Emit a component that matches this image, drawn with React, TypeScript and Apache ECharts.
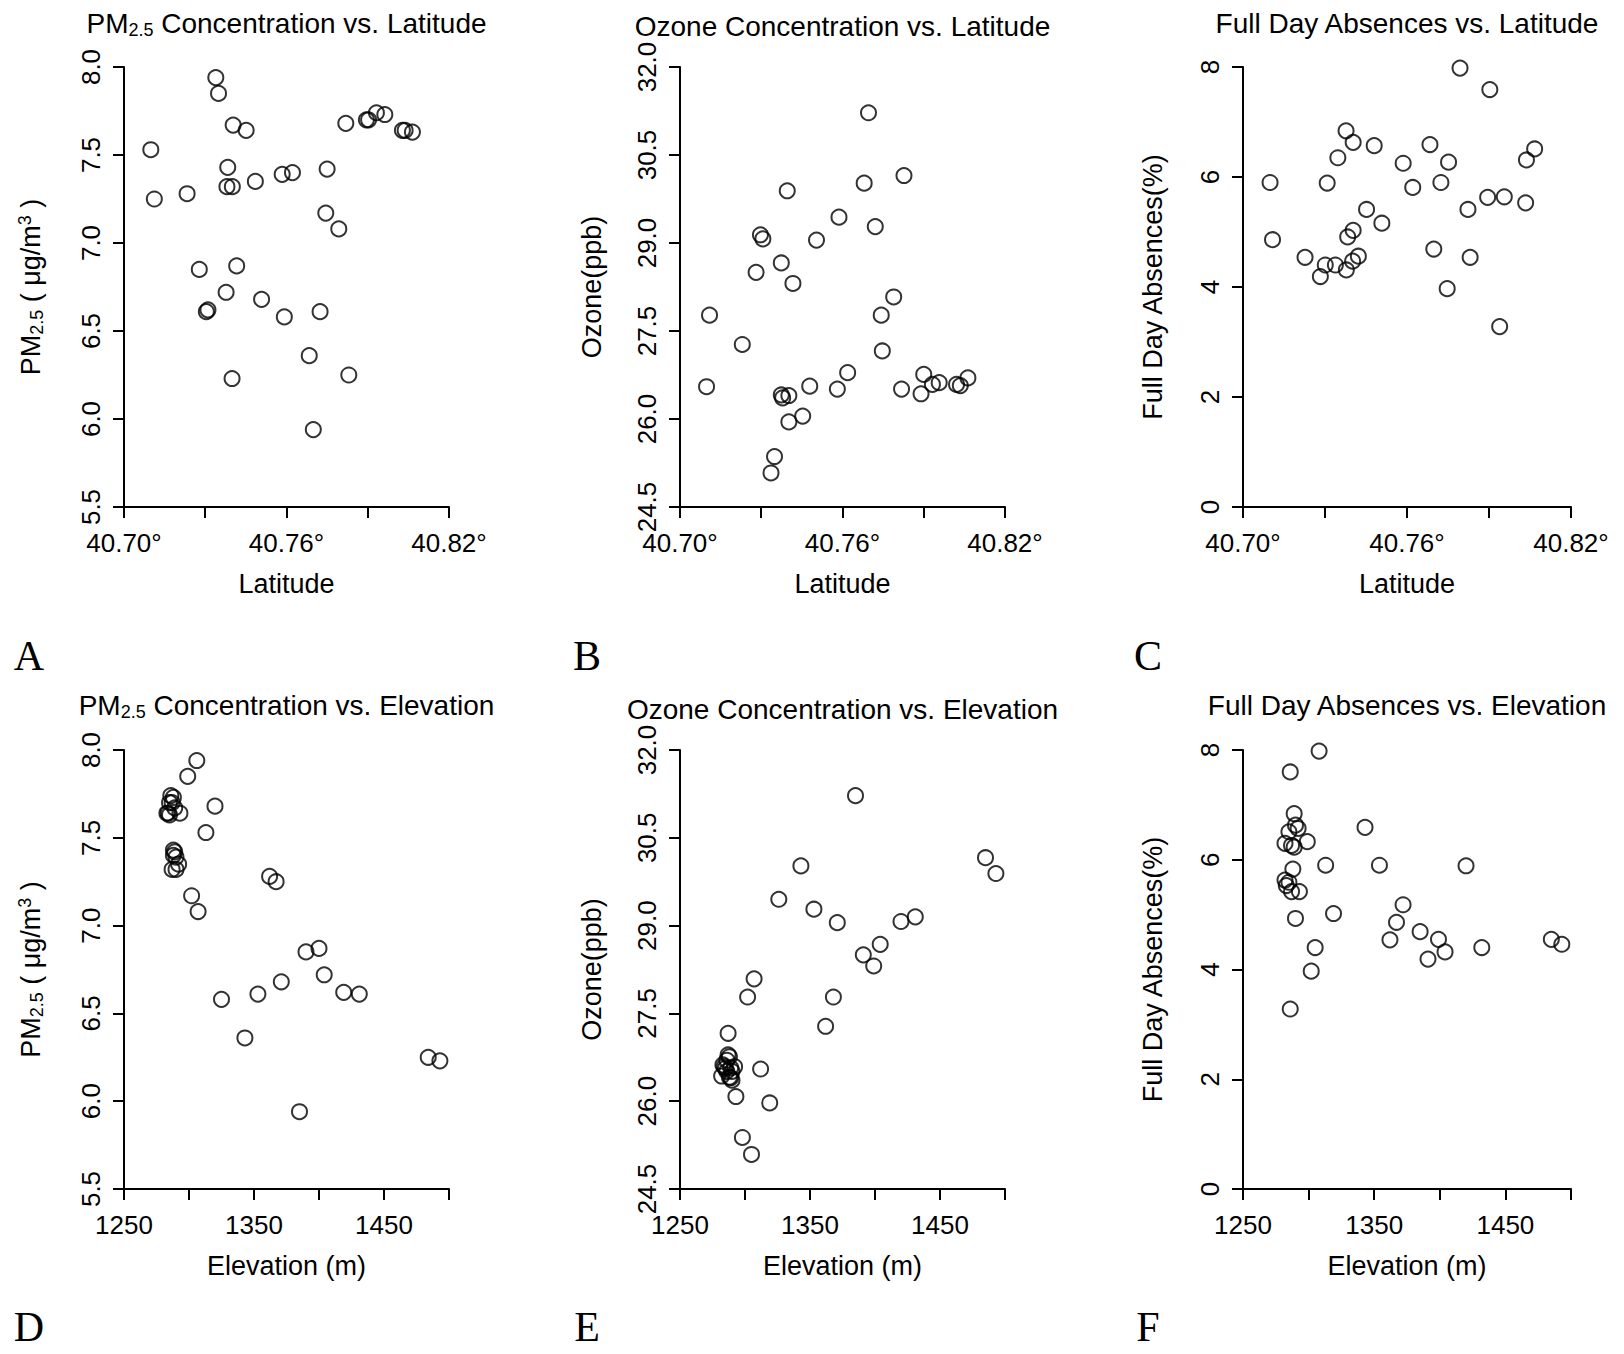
import React, { useEffect, useRef } from 'react';
import * as echarts from 'echarts';

const FONT = '"Liberation Sans", Arial, Helvetica, sans-serif';
const SERIF = '"Liberation Serif", "Times New Roman", serif';

// ---- tick values ----
const latTicks = [40.7, 40.73, 40.76, 40.79, 40.82];
const latLabels = [40.7, 40.76, 40.82];
const elevTicks = [1250, 1300, 1350, 1400, 1450, 1500];
const elevLabels = [1250, 1350, 1450];
const pmTicks = [5.5, 6.0, 6.5, 7.0, 7.5, 8.0];
const ozTicks = [24.5, 26.0, 27.5, 29.0, 30.5, 32.0];
const absTicks = [0, 2, 4, 6, 8];

// ---- Panel A: PM2.5 vs latitude ----
const latA = [40.7339, 40.7349, 40.7099, 40.7112, 40.7233, 40.7403, 40.7451, 40.7383, 40.738, 40.74, 40.7485, 40.7584, 40.7622, 40.775, 40.7745, 40.7793, 40.7819, 40.7895, 40.7903, 40.7932, 40.7963, 40.8028, 40.8038, 40.8065, 40.7278, 40.7304, 40.731, 40.7377, 40.7416, 40.7508, 40.7592, 40.7724, 40.7684, 40.7399, 40.783, 40.7699];
const pmA = [7.94, 7.85, 7.53, 7.25, 7.28, 7.67, 7.64, 7.43, 7.32, 7.32, 7.35, 7.39, 7.4, 7.42, 7.17, 7.08, 7.68, 7.7, 7.7, 7.74, 7.73, 7.64, 7.64, 7.63, 6.85, 6.61, 6.62, 6.72, 6.87, 6.68, 6.58, 6.61, 6.36, 6.23, 6.25, 5.94];

// ---- Panel B: Ozone vs latitude ----
const latB = [40.7696, 40.7827, 40.768, 40.7396, 40.7587, 40.7721, 40.7504, 40.7297, 40.7306, 40.7374, 40.7281, 40.7417, 40.7789, 40.7109, 40.7743, 40.723, 40.7747, 40.7619, 40.7098, 40.7479, 40.7581, 40.7374, 40.7379, 40.7402, 40.7818, 40.789, 40.79, 40.7932, 40.7957, 40.8021, 40.8035, 40.8063, 40.7453, 40.7402, 40.7349, 40.7336];
const ozB = [31.22, 30.15, 30.02, 29.89, 29.44, 29.28, 29.05, 29.14, 29.07, 28.66, 28.5, 28.31, 28.08, 27.77, 27.77, 27.27, 27.16, 26.79, 26.55, 26.56, 26.51, 26.41, 26.36, 26.4, 26.51, 26.43, 26.76, 26.59, 26.62, 26.59, 26.57, 26.7, 26.05, 25.95, 25.36, 25.08];

// ---- Panel C: Full day absences vs latitude ----
const latC = [40.7794, 40.7903, 40.7377, 40.7403, 40.748, 40.7347, 40.7684, 40.7586, 40.7752, 40.8067, 40.8037, 40.7099, 40.7308, 40.7621, 40.7724, 40.7895, 40.7956, 40.8034, 40.7823, 40.7452, 40.7508, 40.7403, 40.7383, 40.7108, 40.7698, 40.7227, 40.7831, 40.7422, 40.7401, 40.7301, 40.7338, 40.7378, 40.7283, 40.7747, 40.7939];
const absC = [7.98, 7.59, 6.84, 6.63, 6.57, 6.35, 6.59, 6.25, 6.27, 6.51, 6.31, 5.9, 5.89, 5.81, 5.9, 5.63, 5.64, 5.53, 5.41, 5.41, 5.16, 5.03, 4.91, 4.86, 4.69, 4.54, 4.54, 4.56, 4.47, 4.4, 4.4, 4.31, 4.19, 3.97, 3.28];

// ---- Panel D: PM2.5 vs elevation ----
const elevD = [1306, 1299, 1286, 1288, 1285, 1287, 1289, 1283, 1284, 1293, 1285, 1320, 1313, 1288, 1289, 1288, 1290, 1292, 1287, 1290, 1362, 1367, 1302, 1307, 1390, 1400, 1371, 1404, 1353, 1419, 1431, 1325, 1343, 1484, 1493, 1385];
const pmD = [7.94, 7.85, 7.74, 7.73, 7.7, 7.7, 7.67, 7.64, 7.64, 7.64, 7.63, 7.68, 7.53, 7.43, 7.42, 7.4, 7.39, 7.35, 7.32, 7.32, 7.28, 7.25, 7.17, 7.08, 6.85, 6.87, 6.68, 6.72, 6.61, 6.62, 6.61, 6.58, 6.36, 6.25, 6.23, 5.94];

// ---- Panel E: Ozone vs elevation ----
const elevE = [1385, 1485, 1493, 1343, 1326, 1353, 1371, 1420, 1431, 1391, 1404, 1399, 1307, 1302, 1368, 1362, 1287, 1312, 1319, 1293, 1298, 1305, 1287, 1288, 1286, 1283, 1284, 1292, 1289, 1285, 1290, 1286, 1282, 1288, 1289, 1290];
const ozE = [31.22, 30.16, 29.89, 30.02, 29.45, 29.28, 29.05, 29.07, 29.15, 28.5, 28.68, 28.31, 28.09, 27.78, 27.78, 27.28, 27.16, 26.55, 25.97, 26.08, 25.38, 25.09, 26.79, 26.76, 26.7, 26.62, 26.59, 26.59, 26.57, 26.56, 26.51, 26.51, 26.43, 26.41, 26.4, 26.36];

// ---- Panel F: Full day absences vs elevation ----
const elevF = [1308, 1286, 1289, 1343, 1285, 1290, 1292, 1282, 1287, 1289, 1299, 1313, 1354, 1420, 1288, 1282, 1285, 1283, 1287, 1293, 1319, 1372, 1290, 1367, 1385, 1362, 1399, 1485, 1493, 1305, 1432, 1404, 1391, 1302, 1286];
const absF = [7.98, 7.6, 6.84, 6.59, 6.51, 6.63, 6.57, 6.3, 6.26, 6.23, 6.33, 5.9, 5.9, 5.89, 5.83, 5.63, 5.59, 5.53, 5.42, 5.42, 5.02, 5.18, 4.93, 4.86, 4.69, 4.54, 4.55, 4.55, 4.46, 4.4, 4.4, 4.32, 4.19, 3.97, 3.28];

// ---- titles ----
const titles = [
  'PM{sub|2.5} Concentration vs. Latitude',
  'Ozone Concentration vs. Latitude',
  'Full Day Absences vs. Latitude',
  'PM{sub|2.5} Concentration vs. Elevation',
  'Ozone Concentration vs. Elevation',
  'Full Day Absences vs. Elevation',
];
const letters = ['A', 'B', 'C', 'D', 'E', 'F'];

type XKind = 'lat' | 'elev';
type YKind = 'pm' | 'oz' | 'abs';

const panels: { x: number[]; y: number[]; xk: XKind; yk: YKind }[] = [
  { x: latA, y: pmA, xk: 'lat', yk: 'pm' },
  { x: latB, y: ozB, xk: 'lat', yk: 'oz' },
  { x: latC, y: absC, xk: 'lat', yk: 'abs' },
  { x: elevD, y: pmD, xk: 'elev', yk: 'pm' },
  { x: elevE, y: ozE, xk: 'elev', yk: 'oz' },
  { x: elevF, y: absF, xk: 'elev', yk: 'abs' },
];

// layout (pixels)
const colLeft = [124, 680, 1243];
const colWidth = [325, 325, 328];
const rowTop = [67, 750];
const rowHeight = [440, 439];
const titleY = [[23, 26, 23], [705, 709, 705]];
const letterPos = [[29, 587, 1148], [656, 1327]];
const yNameGap: Record<YKind, number> = { pm: 78, oz: 73, abs: 75 };

const subRich = {
  sub: { fontSize: 18, fontFamily: FONT, color: '#000', lineHeight: 18, verticalAlign: 'bottom' as const },
  sup: { fontSize: 18, fontFamily: FONT, color: '#000', lineHeight: 18, verticalAlign: 'top' as const },
};

const axisLineStyle = { show: true, onZero: false, lineStyle: { color: '#000', width: 2 } };
const tickStyle = { color: '#000', width: 2 };

function buildOption() {
  const grid: any[] = [];
  const xAxis: any[] = [];
  const yAxis: any[] = [];
  const series: any[] = [];
  const title: any[] = [];

  panels.forEach((p, i) => {
    const row = Math.floor(i / 3);
    const col = i % 3;
    grid.push({ left: colLeft[col], top: rowTop[row], width: colWidth[col], height: rowHeight[row], containLabel: false });

    const isLat = p.xk === 'lat';
    xAxis.push({
      type: 'value',
      gridIndex: i,
      min: isLat ? latTicks[0] : elevTicks[0],
      max: isLat ? latTicks[latTicks.length - 1] : elevTicks[elevTicks.length - 1],
      name: isLat ? 'Latitude' : 'Elevation (m)',
      nameLocation: 'middle',
      nameGap: 62,
      nameTextStyle: { fontFamily: FONT, fontSize: 27, color: '#000', lineHeight: 30 },
      axisLine: axisLineStyle,
      axisTick: { show: true, length: 11, lineStyle: tickStyle, customValues: isLat ? latTicks : elevTicks },
      axisLabel: {
        show: true,
        customValues: isLat ? latLabels : elevLabels,
        formatter: (v: number) => (isLat ? v.toFixed(2) + '°' : String(Math.round(v))),
        fontFamily: FONT,
        fontSize: 26,
        color: '#000',
        margin: 23,
      },
      splitLine: { show: false },
    });

    const yt = p.yk === 'pm' ? pmTicks : p.yk === 'oz' ? ozTicks : absTicks;
    const yName = p.yk === 'pm' ? 'PM{sub|2.5} ( μg/m{sup|3} )' : p.yk === 'oz' ? 'Ozone(ppb)' : 'Full Day Absences(%)';
    yAxis.push({
      type: 'value',
      gridIndex: i,
      min: yt[0],
      max: yt[yt.length - 1],
      name: yName,
      nameLocation: 'middle',
      nameRotate: 90,
      nameGap: yNameGap[p.yk],
      nameTextStyle: { fontFamily: FONT, fontSize: 27, color: '#000', lineHeight: 30, rich: subRich },
      axisLine: axisLineStyle,
      axisTick: { show: true, length: 11, lineStyle: tickStyle, customValues: yt },
      axisLabel: {
        show: true,
        customValues: yt,
        rotate: 90,
        formatter: (v: number) => (p.yk === 'abs' ? String(Math.round(v)) : v.toFixed(1)),
        fontFamily: FONT,
        fontSize: 26,
        color: '#000',
        margin: 20,
      },
      splitLine: { show: false },
    });

    series.push({
      type: 'scatter',
      xAxisIndex: i,
      yAxisIndex: i,
      data: p.x.map((xv, k) => [xv, p.y[k]]),
      symbol: 'circle',
      symbolSize: 15,
      itemStyle: { color: 'rgba(0,0,0,0)', borderColor: '#000', borderWidth: 2 },
      emphasis: { disabled: true },
      silent: true,
    });

    const cx = colLeft[col] + colWidth[col] / 2;
    title.push({
      text: titles[i],
      left: cx,
      top: titleY[row][col] - 16,
      textAlign: 'center',
      padding: 0,
      textStyle: { fontFamily: FONT, fontSize: 28, fontWeight: 'normal', color: '#000', lineHeight: 32, rich: subRich },
    });
    title.push({
      text: letters[i],
      left: letterPos[0][col],
      top: letterPos[1][row] - 20,
      textAlign: 'center',
      padding: 0,
      textStyle: { fontFamily: SERIF, fontSize: 42, fontWeight: 'normal', color: '#000', lineHeight: 40 },
    });
  });

  return { animation: false, backgroundColor: '#fff', title, grid, xAxis, yAxis, series };
}

export default function App() {
  const ref = useRef<HTMLDivElement>(null);
  useEffect(() => {
    document.body.style.margin = '0';
    const chart = echarts.init(ref.current!, null, { renderer: 'svg' });
    chart.setOption(buildOption() as any);
    return () => chart.dispose();
  }, []);
  return <div ref={ref} style={{ width: 1624, height: 1354, background: '#fff' }} />;
}
